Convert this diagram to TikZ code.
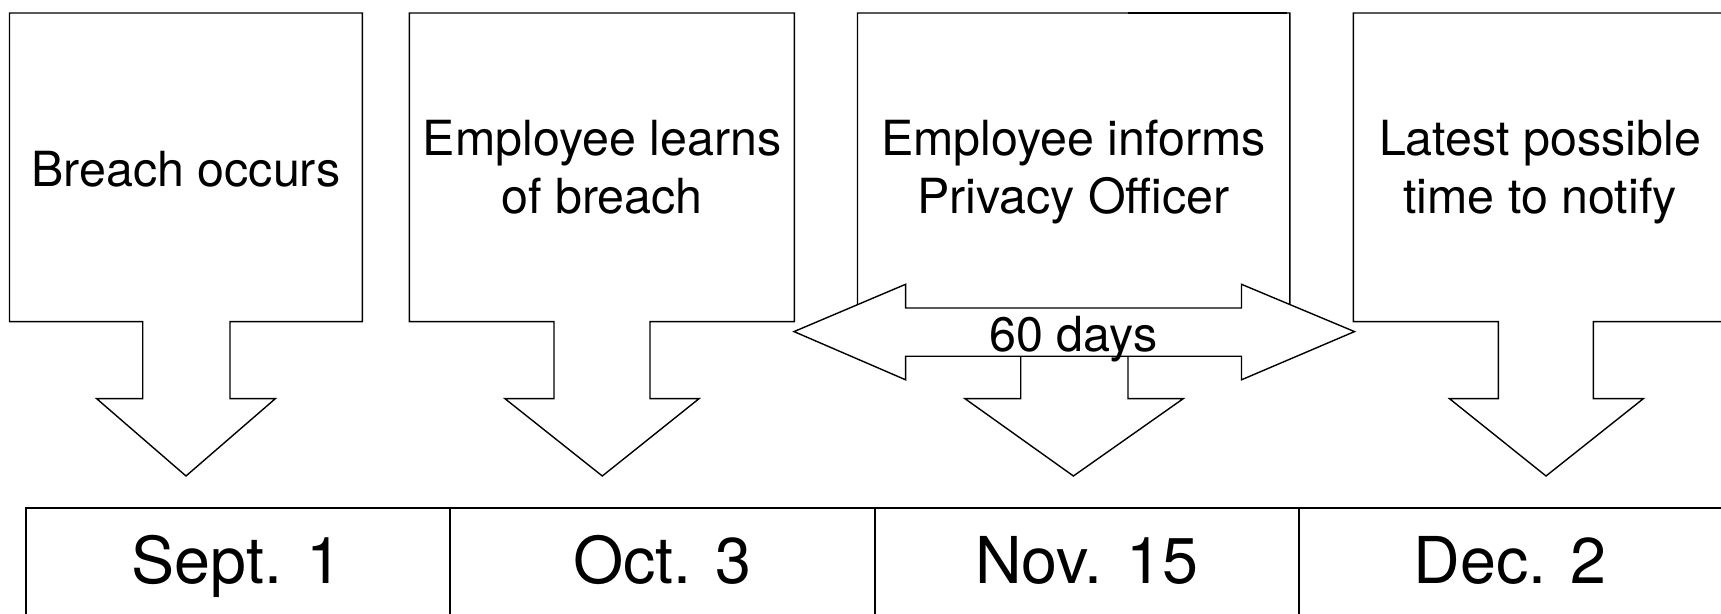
\documentclass[tikz,border=0pt]{standalone}
\usepackage{fontspec}
\setmainfont{TeX Gyre Heros}
\newcommand\calloutshape[7]{%
  \draw[callout] (#1,13) -- (#2,13) -- (#2,321.6) -- (#4,321.6) -- (#4,398.7) -- (#6,398.7)
    -- (#7,476) -- (#5,398.7) -- (#3,398.7) -- (#3,321.6) -- (#1,321.6) -- cycle;}
\begin{document}
\begin{tikzpicture}[x=0.5pt,y=-0.5pt,
  callout/.style={draw=black,fill=white,line width=0.7pt,line join=miter},
  lbl/.style={font=\fontsize{24.2}{29}\selectfont,anchor=base,inner sep=0pt},
  datelbl/.style={font=\fontsize{32.3}{38}\selectfont,anchor=base,inner sep=0pt},
  tbl/.style={draw=black,line width=1pt}]
\useasboundingbox (0,0) rectangle (1721,614);
\clip (0,0) rectangle (1721,614);
\fill[white] (0,0) rectangle (1721,614);
% callout boxes with block arrows
\calloutshape{9.5}{362.3}{142.7}{230}{96.7}{275.3}{186}
\calloutshape{409.3}{794.3}{554}{650}{505}{699}{602.3}
\calloutshape{857.5}{1289.8}{1020.7}{1128}{965}{1183.2}{1073.4}
\calloutshape{1353.3}{1740}{1498.3}{1593.3}{1449.5}{1643.3}{1546}
\draw[line width=1.1pt] (1127.8,13) -- (1286.8,13);
% double arrow
\draw[callout] (794,331.6) -- (905.6,284.3) -- (905.6,308) -- (1241.5,308) -- (1241.5,284.3)
  -- (1354.5,331.6) -- (1241.5,379.8) -- (1241.5,356.3) -- (905.6,356.3) -- (905.6,379.8) -- cycle;
% labels
\node[lbl] (t1) at (186,187) {Breach occurs};
\node[lbl] (t2a) at (602,156) {Employee learns};
\node[lbl] (t2b) at (602,213.3) {of breach};
\node[lbl] (t3a) at (1073.5,156) {Employee informs};
\node[lbl] (t3b) at (1073.5,213.3) {Privacy Officer};
\node[lbl] (t4a) at (1540,156) {Latest possible};
\node[lbl] (t4b) at (1540,213.3) {time to notify};
\node[lbl] (d60) at (1073.5,351.7) {60 days};
% table
\draw[tbl] (26,700) -- (26,507.7) -- (1800,507.7);
\draw[tbl] (450,507.7) -- (450,700);
\draw[tbl] (874.8,507.7) -- (874.8,700);
\draw[tbl] (1298.5,507.7) -- (1298.5,700);
\node[datelbl] (d1) at (237,583.3) {Sept. 1};
\node[datelbl] (d2) at (662.4,583.3) {Oct. 3};
\node[datelbl] (d3) at (1086.6,583.3) {Nov. 15};
\node[datelbl] (d4) at (1510,583.3) {Dec. 2};
\end{tikzpicture}
\end{document}
